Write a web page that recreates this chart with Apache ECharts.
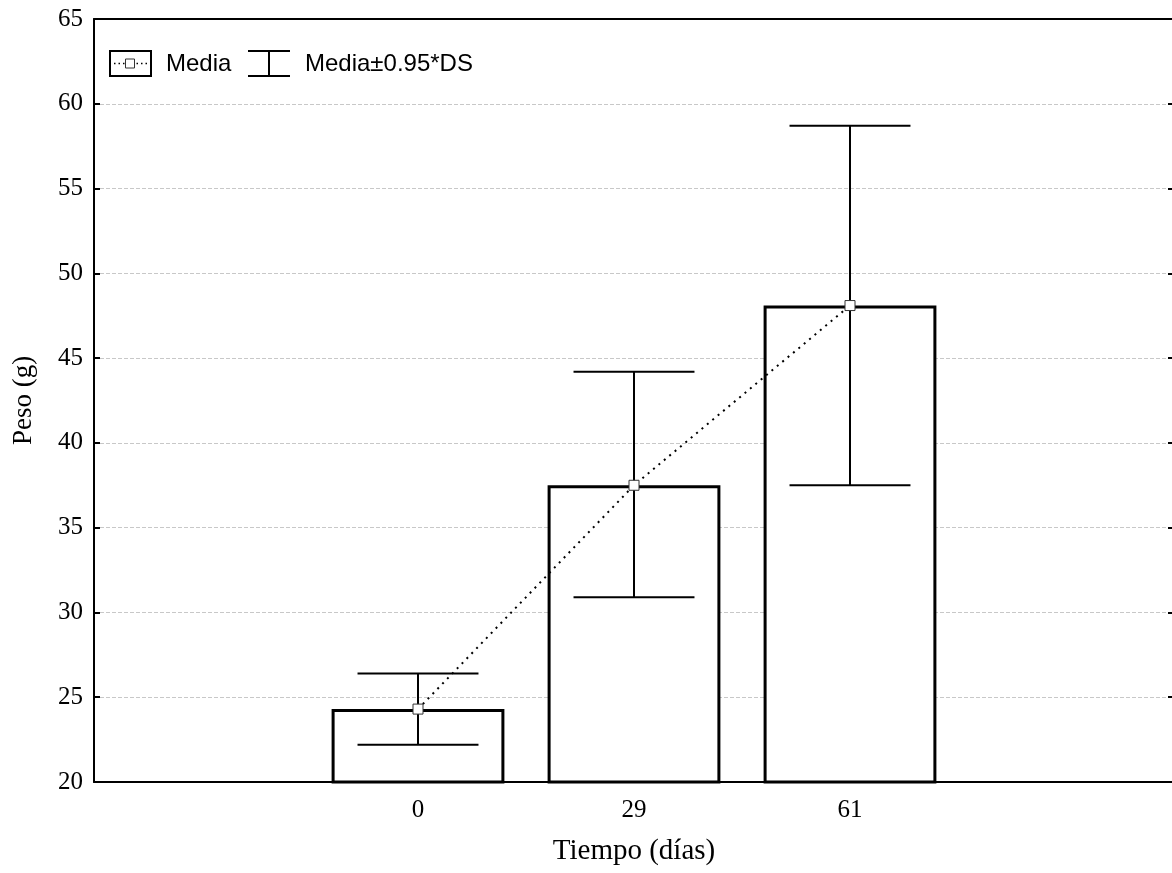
<!DOCTYPE html>
<html>
<head>
<meta charset="utf-8">
<script src="https://cdn.jsdelivr.net/npm/echarts@6/dist/echarts.min.js"></script>
<style>
  html, body { margin: 0; padding: 0; background: #fff; }
  #main { width: 1172px; height: 873px; }
</style>
</head>
<body>
<div id="main"></div>
<script>
// datos
var categories = ['', '0', '29', '61', ''];
var means = [null, 24.3, 37.5, 48.1, null];
var lows = [null, 22.2, 30.9, 37.5, null];
var highs = [null, 26.4, 44.2, 58.7, null];
var yTicks = [20, 25, 30, 35, 40, 45, 50, 55, 60, 65];

var chart = echarts.init(document.getElementById('main'));

var errData = [];
for (var i = 0; i < categories.length; i++) {
  if (lows[i] != null) errData.push([i, lows[i], highs[i]]);
}

var serif = '"Liberation Serif", "Times New Roman", serif';
var sans = '"Liberation Sans", Arial, sans-serif';

function renderErr(params, api) {
  var x = api.value(0);
  var lo = api.coord([x, api.value(1)]);
  var hi = api.coord([x, api.value(2)]);
  var half = api.size([1, 0])[0] * 0.28;
  var st = { stroke: '#000', lineWidth: 2 };
  return {
    type: 'group',
    children: [
      { type: 'line', shape: { x1: lo[0], y1: lo[1], x2: hi[0], y2: hi[1] }, style: st },
      { type: 'line', shape: { x1: hi[0] - half, y1: hi[1], x2: hi[0] + half, y2: hi[1] }, style: st },
      { type: 'line', shape: { x1: lo[0] - half, y1: lo[1], x2: lo[0] + half, y2: lo[1] }, style: st }
    ]
  };
}

var option = {
  backgroundColor: '#ffffff',
  animation: false,
  grid: { left: 94, right: -2, top: 19, bottom: 91, outerBoundsMode: 'none', containLabel: false },
  xAxis: [{
    type: 'category',
    data: categories,
    position: 'bottom',
    name: 'Tiempo (días)',
    nameLocation: 'middle',
    nameGap: 55,
    nameTextStyle: { fontFamily: serif, fontSize: 29, color: '#000' },
    axisLine: { lineStyle: { color: '#000', width: 2 } },
    axisTick: { inside: true, alignWithLabel: true, interval: 0, length: 6, lineStyle: { color: '#000', width: 2 } },
    axisLabel: { fontFamily: serif, fontSize: 25, color: '#000', margin: 16, interval: 0 },
    splitLine: { show: false }
  }, {
    type: 'category',
    data: categories,
    position: 'top',
    axisLine: { lineStyle: { color: '#000', width: 2 } },
    axisTick: { inside: true, alignWithLabel: true, interval: 0, length: 6, lineStyle: { color: '#000', width: 2 } },
    axisLabel: { show: false },
    splitLine: { show: false }
  }],
  yAxis: [{
    type: 'value',
    min: yTicks[0],
    max: yTicks[yTicks.length - 1],
    interval: 5,
    name: 'Peso (g)',
    nameLocation: 'middle',
    nameGap: 57,
    nameTextStyle: { fontFamily: serif, fontSize: 27, color: '#000' },
    axisLine: { show: true, lineStyle: { color: '#000', width: 2 } },
    axisTick: { show: true, inside: true, length: 6, lineStyle: { color: '#000', width: 2 } },
    axisLabel: { fontFamily: serif, fontSize: 25, color: '#000', margin: 11 },
    splitLine: { show: true, lineStyle: { color: '#c8c8c8', type: [4, 2], width: 1 } }
  }, {
    type: 'value',
    position: 'right',
    min: yTicks[0],
    max: yTicks[yTicks.length - 1],
    interval: 5,
    axisLine: { show: true, lineStyle: { color: '#000', width: 2 } },
    axisTick: { show: true, inside: true, length: 6, lineStyle: { color: '#000', width: 2 } },
    axisLabel: { show: false },
    splitLine: { show: false }
  }],
  series: [{
    type: 'bar',
    name: 'Media',
    data: means,
    barWidth: '80%',
    z: 2,
    itemStyle: { color: '#fff', borderColor: '#000', borderWidth: 3 }
  }, {
    type: 'custom',
    name: 'Media±0.95*DS',
    data: errData,
    renderItem: renderErr,
    z: 3
  }, {
    type: 'line',
    name: 'Media',
    data: means,
    symbol: 'rect',
    symbolSize: 10,
    showAllSymbol: true,
    z: 4,
    lineStyle: { color: '#000', width: 2, type: [2, 5] },
    itemStyle: { color: '#fff', borderColor: '#333', borderWidth: 1 }
  }],
  graphic: [
    { type: 'rect', shape: { x: 110, y: 51, width: 41, height: 25 }, style: { fill: '#fff', stroke: '#000', lineWidth: 2 } },
    { type: 'line', shape: { x1: 114, y1: 63.5, x2: 148, y2: 63.5 }, style: { stroke: '#000', lineWidth: 1.5, lineDash: [1.5, 3] } },
    { type: 'rect', shape: { x: 125.5, y: 59, width: 9, height: 9 }, style: { fill: '#fff', stroke: '#333', lineWidth: 1 } },
    { type: 'text', x: 166, y: 64, style: { text: 'Media', font: '24px ' + sans, fill: '#000', verticalAlign: 'middle' } },
    { type: 'line', shape: { x1: 248, y1: 51, x2: 290, y2: 51 }, style: { stroke: '#000', lineWidth: 2 } },
    { type: 'line', shape: { x1: 248, y1: 76, x2: 290, y2: 76 }, style: { stroke: '#000', lineWidth: 2 } },
    { type: 'line', shape: { x1: 269, y1: 51, x2: 269, y2: 76 }, style: { stroke: '#000', lineWidth: 2 } },
    { type: 'text', x: 305, y: 64, style: { text: 'Media±0.95*DS', font: '24px ' + sans, fill: '#000', verticalAlign: 'middle' } }
  ]
};

chart.setOption(option);
</script>
</body>
</html>
